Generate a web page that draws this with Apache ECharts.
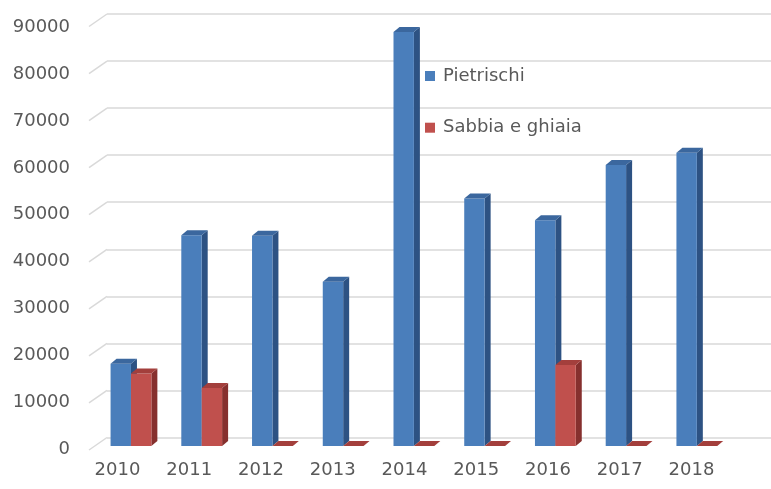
<!DOCTYPE html>
<html>
<head>
<meta charset="utf-8">
<script src="https://cdn.jsdelivr.net/npm/echarts@6/dist/echarts.min.js"></script>
<style>
  html, body { margin: 0; padding: 0; background: #ffffff; }
  #chart { width: 771px; height: 489px; }
</style>
</head>
<body>
<div id="chart"></div>
<script>
// Production (tonnes) by year
const years = ['2010', '2011', '2012', '2013', '2014', '2015', '2016', '2017', '2018'];
const pietrischi = [17500, 44800, 44700, 34900, 88000, 52600, 48000, 59700, 62300];
const sabbiaGhiaia = [15400, 12300, 0, 0, 0, 0, 17200, 0, 0];
const yTicks = [0, 10000, 20000, 30000, 40000, 50000, 60000, 70000, 80000, 90000];

const Y_MAX = 90000;
const Y_STEP = 10000;
const FONT = 'DejaVu Sans';
const TEXT_COLOR = '#595959';
const GRID_COLOR = '#d9d9d9';

// pseudo-3D column geometry
const BAR_W = 20.4;
const DEPTH_X = 6;
const DEPTH_Y = 5;
// back-wall offset relative to the front axis
const WALL_DX = 18;
const WALL_DY = 12.5;

const palette = {
  blue: { front: '#4a7ebb', top: '#3b679e', side: '#2d5283' },
  red:  { front: '#c0504d', top: '#a33f3c', side: '#86302e' }
};

function makeColumnRenderer(slot, colors) {
  return function (params, api) {
    const idx = api.value(0);
    const val = api.value(1);
    const top = api.coord([idx, val]);
    const base = api.coord([idx, 0]);
    const x0 = top[0] - BAR_W + slot * BAR_W;
    const x1 = x0 + BAR_W;
    const yT = top[1];
    const yB = base[1];
    const children = [];
    if (yB - yT > 0.01) {
      children.push({
        type: 'polygon',
        shape: { points: [[x1, yT], [x1 + DEPTH_X, yT - DEPTH_Y], [x1 + DEPTH_X, yB - DEPTH_Y], [x1, yB]] },
        style: { fill: colors.side }
      });
      children.push({
        type: 'rect',
        shape: { x: x0, y: yT, width: BAR_W, height: yB - yT },
        style: { fill: colors.front }
      });
    }
    children.push({
      type: 'polygon',
      shape: { points: [[x0, yT], [x1, yT], [x1 + DEPTH_X, yT - DEPTH_Y], [x0 + DEPTH_X, yT - DEPTH_Y]] },
      style: { fill: colors.top }
    });
    return { type: 'group', children: children };
  };
}

const chart = echarts.init(document.getElementById('chart'), null, { renderer: 'canvas' });

chart.setOption({
  backgroundColor: '#ffffff',
  animation: false,
  legend: {
    orient: 'vertical',
    left: 425,
    top: 66,
    padding: 0,
    itemWidth: 10,
    itemHeight: 10,
    itemGap: 31.7,
    icon: 'rect',
    textStyle: { fontFamily: FONT, fontSize: 18, color: TEXT_COLOR, lineHeight: 20, padding: [0, 0, 0, 3] },
    data: ['Pietrischi', 'Sabbia e ghiaia']
  },
  grid: [
    // front axis: labels
    { left: 81.6, right: 43.6, top: 27, bottom: 39.5 },
    // back wall: gridlines
    { left: 107, right: 0, top: 14, bottom: 51.5 },
    // columns, set back slightly from the front axis
    { left: 95.6, right: 38.8, top: 22.5, bottom: 43 }
  ],
  xAxis: [
    {
      gridIndex: 0, type: 'category', data: years,
      axisLine: { show: false }, axisTick: { show: false },
      axisLabel: { fontFamily: FONT, fontSize: 18, color: TEXT_COLOR, margin: 12 },
      splitLine: { show: false }
    },
    { gridIndex: 1, type: 'value', min: 0, max: 1, show: false },
    { gridIndex: 2, type: 'category', data: years, show: false }
  ],
  yAxis: [
    {
      gridIndex: 0, type: 'value', min: 0, max: Y_MAX, interval: Y_STEP,
      axisLine: { show: false }, axisTick: { show: false },
      axisLabel: {
        fontFamily: FONT, fontSize: 18, color: TEXT_COLOR, margin: 11.6,
        formatter: v => String(v)
      },
      splitLine: { show: false }
    },
    {
      gridIndex: 1, type: 'value', min: 0, max: Y_MAX, interval: Y_STEP,
      axisLine: { show: false }, axisTick: { show: false }, axisLabel: { show: false },
      splitLine: { show: true, lineStyle: { color: GRID_COLOR, width: 1.5 } }
    },
    { gridIndex: 2, type: 'value', min: 0, max: Y_MAX, interval: Y_STEP, show: false }
  ],
  series: [
    {
      // side-wall diagonals joining the front axis to the back gridlines
      type: 'custom',
      name: 'wall',
      xAxisIndex: 1, yAxisIndex: 1,
      silent: true,
      data: yTicks.map(v => [0, v]),
      renderItem: function (params, api) {
        const p = api.coord([0, api.value(1)]);
        return {
          type: 'line',
          shape: { x1: p[0], y1: p[1], x2: p[0] - WALL_DX, y2: p[1] + WALL_DY },
          style: { stroke: GRID_COLOR, lineWidth: 1.5 }
        };
      }
    },
    {
      type: 'custom',
      name: 'Pietrischi',
      xAxisIndex: 2, yAxisIndex: 2,
      itemStyle: { color: palette.blue.front },
      data: pietrischi.map((v, i) => [i, v]),
      renderItem: makeColumnRenderer(0, palette.blue)
    },
    {
      type: 'custom',
      name: 'Sabbia e ghiaia',
      xAxisIndex: 2, yAxisIndex: 2,
      itemStyle: { color: palette.red.front },
      data: sabbiaGhiaia.map((v, i) => [i, v]),
      renderItem: makeColumnRenderer(1, palette.red)
    }
  ]
});
</script>
</body>
</html>
